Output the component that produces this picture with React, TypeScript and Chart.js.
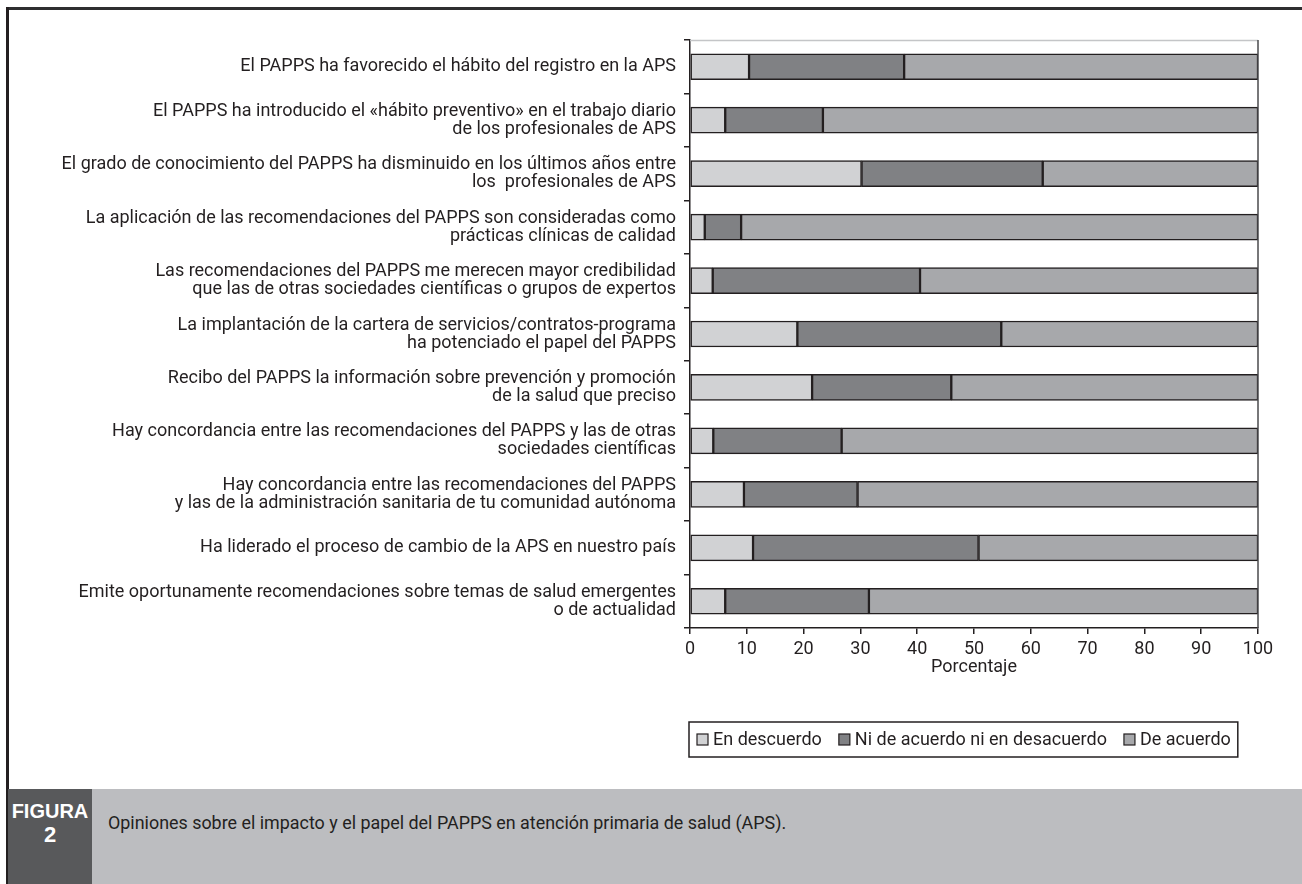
import React, { useEffect, useRef } from "react";
import { Chart, registerables } from "chart.js";

Chart.register(...registerables);

const categories: (string | string[])[] = [
  "El PAPPS ha favorecido el hábito del registro en la APS",
  ["El PAPPS ha introducido el «hábito preventivo» en el trabajo diario", "de los profesionales de APS"],
  ["El grado de conocimiento del PAPPS ha disminuido en los últimos años entre", "los  profesionales de APS"],
  ["La aplicación de las recomendaciones del PAPPS son consideradas como", "prácticas clínicas de calidad"],
  ["Las recomendaciones del PAPPS me merecen mayor credibilidad", "que las de otras sociedades científicas o grupos de expertos"],
  ["La implantación de la cartera de servicios/contratos-programa", "ha potenciado el papel del PAPPS"],
  ["Recibo del PAPPS la información sobre prevención y promoción", "de la salud que preciso"],
  ["Hay concordancia entre las recomendaciones del PAPPS y las de otras", "sociedades científicas"],
  ["Hay concordancia entre las recomendaciones del PAPPS", "y las de la administración sanitaria de tu comunidad autónoma"],
  "Ha liderado el proceso de cambio de la APS en nuestro país",
  ["Emite oportunamente recomendaciones sobre temas de salud emergentes", "o de actualidad"],
];

const enDescuerdo = [10.4, 6.2, 30.2, 2.6, 4.0, 18.9, 21.5, 4.1, 9.5, 11.1, 6.2];
const niNi = [27.3, 17.2, 31.9, 6.4, 36.5, 35.9, 24.5, 22.6, 20.0, 39.7, 25.3];
const deAcuerdo = [62.3, 76.6, 37.9, 91.0, 59.5, 45.2, 54.0, 73.3, 70.5, 49.2, 68.5];

const seriesNames = ["En descuerdo", "Ni de acuerdo ni en desacuerdo", "De acuerdo"];
const seriesColors = ["#d1d2d4", "#808184", "#a7a8ab"];

const axisTitle = "Porcentaje";
const figureLabel = "FIGURA";
const figureNumber = "2";
const caption = "Opiniones sobre el impacto y el papel del PAPPS en atención primaria de salud (APS).";

const FONT = "Roboto, 'Liberation Sans', sans-serif";
const INK = "#231f20";
const FS = 18;

const framePlugin = {
  id: "plotFrame",
  afterDatasetsDraw(chart: any) {
    const { ctx, chartArea } = chart;
    ctx.save();
    ctx.lineWidth = 1.5;
    ctx.strokeStyle = "#c4c5c7";
    ctx.beginPath();
    ctx.moveTo(chartArea.left, chartArea.top + 0.5);
    ctx.lineTo(chartArea.right, chartArea.top + 0.5);
    ctx.stroke();
    ctx.strokeStyle = "#4a4a4c";
    ctx.beginPath();
    ctx.moveTo(chartArea.right, chartArea.top);
    ctx.lineTo(chartArea.right, chartArea.bottom);
    ctx.stroke();
    ctx.restore();
  },
};

const boxedLegendPlugin = {
  id: "boxedLegend",
  afterDraw(chart: any) {
    const { ctx, chartArea } = chart;
    const left = chartArea.left - 1;
    const top = chartArea.bottom + 94;
    const h = 35;
    const cy = top + h / 2;
    const sq = 11;
    ctx.save();
    ctx.font = `${FS}px ${FONT}`;
    ctx.textBaseline = "middle";
    ctx.textAlign = "left";
    let x = left + 8;
    chart.data.datasets.forEach((ds: any, i: number) => {
      ctx.fillStyle = ds.backgroundColor;
      ctx.fillRect(x, cy - sq / 2, sq, sq);
      ctx.strokeStyle = INK;
      ctx.lineWidth = 1.2;
      ctx.strokeRect(x, cy - sq / 2, sq, sq);
      x += sq + 5;
      ctx.fillStyle = INK;
      ctx.fillText(ds.label, x, cy + 1);
      x += ctx.measureText(ds.label).width;
      if (i < chart.data.datasets.length - 1) x += 17;
    });
    x += 7;
    ctx.strokeStyle = INK;
    ctx.lineWidth = 1.5;
    ctx.strokeRect(left, top, x - left, h);
    ctx.restore();
  },
};

export default function App() {
  const ref = useRef<HTMLCanvasElement | null>(null);

  useEffect(() => {
    if (!ref.current) return;
    const datasets = [enDescuerdo, niNi, deAcuerdo].map((d, i) => ({
      label: seriesNames[i],
      data: d,
      backgroundColor: seriesColors[i],
      borderColor: INK,
      borderWidth: 1.5,
      borderSkipped: false as const,
      barThickness: 26,
    }));
    const chart = new Chart(ref.current, {
      type: "bar",
      data: { labels: categories as any, datasets },
      options: {
        indexAxis: "y",
        animation: false,
        responsive: false,
        maintainAspectRatio: false,
        layout: { padding: { top: 40, right: 44, left: 0, bottom: 196 } },
        plugins: { legend: { display: false }, tooltip: { enabled: false } },
        scales: {
          x: {
            stacked: true,
            min: 0,
            max: 100,
            ticks: { stepSize: 10, color: INK, font: { family: FONT, size: FS, lineHeight: 1 }, padding: 6 },
            grid: { drawOnChartArea: false, tickLength: 6, color: INK, lineWidth: 1.5 },
            border: { color: INK, width: 1.5 },
            title: {
              display: true,
              text: axisTitle,
              color: INK,
              font: { family: FONT, size: FS, lineHeight: 1 },
              padding: { top: 0, bottom: 12 },
            },
            afterFit: (s: any) => {
              s.height = 60;
            },
          },
          y: {
            stacked: true,
            ticks: { color: INK, font: { family: FONT, size: FS, lineHeight: 1 }, padding: 8, autoSkip: false },
            grid: { drawOnChartArea: false, tickLength: 6, color: INK, lineWidth: 1.5, offset: true },
            border: { color: INK, width: 1.5 },
            afterFit: (s: any) => {
              s.width = 690;
            },
          },
        },
      },
      plugins: [framePlugin, boxedLegendPlugin],
    });
    return () => chart.destroy();
  }, []);

  return (
    <div
      style={{
        position: "fixed",
        left: 0,
        top: 0,
        width: 1302,
        height: 884,
        background: "#fff",
        overflow: "hidden",
      }}
    >
      <div style={{ position: "absolute", left: 6, top: 7, width: 1296, height: 3, background: "#2e2e30" }} />
      <div style={{ position: "absolute", left: 6, top: 7, width: 2.5, height: 877, background: INK }} />
      <div style={{ position: "absolute", left: 8, top: 789, right: 0, bottom: 0, background: "#bcbdc0" }} />
      <div
        style={{
          position: "absolute",
          left: 8,
          top: 789,
          width: 84,
          bottom: 0,
          background: "#58595b",
          color: "#fff",
          fontFamily: "'Liberation Sans', Arial, sans-serif",
          fontWeight: 700,
          fontSize: 20,
          lineHeight: "24px",
          textAlign: "center",
          paddingTop: 10,
          boxSizing: "border-box",
        }}
      >
        <div>{figureLabel}</div>
        <div style={{ fontSize: 22 }}>{figureNumber}</div>
      </div>
      <div
        style={{
          position: "absolute",
          left: 108,
          top: 812,
          fontFamily: FONT,
          fontSize: 17.9,
          lineHeight: "22px",
          color: INK,
          whiteSpace: "nowrap",
        }}
      >
        {caption}
      </div>
      <canvas ref={ref} width={1302} height={884} style={{ position: "absolute", left: 0, top: 0, width: 1302, height: 884 }} />
    </div>
  );
}
